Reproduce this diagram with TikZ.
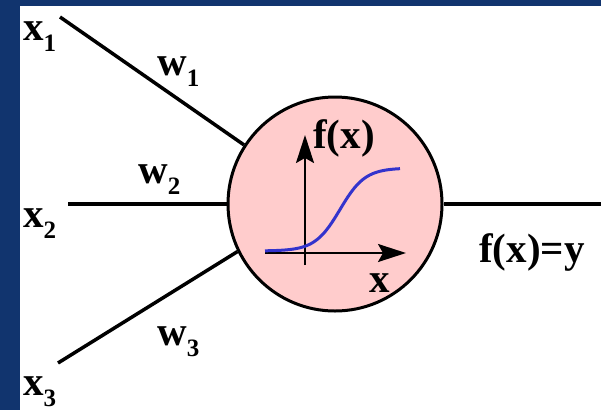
\documentclass[tikz,border=0pt]{standalone}
\usepackage{fontspec}
\setmainfont{Liberation Serif}
\usetikzlibrary{arrows.meta,positioning}
\definecolor{slideblue}{RGB}{17,52,110}
\definecolor{cellpink}{RGB}{255,204,204}
\definecolor{curveblue}{RGB}{51,51,204}
\newcommand{\sub}[1]{\raisebox{-11pt}{\fontsize{25}{28}\selectfont #1}}

\begin{document}
\begin{tikzpicture}[x=1pt,y=-1pt]
\tikzstyle{lab}=[font=\fontsize{41}{48}\selectfont\bfseries, inner sep=0pt, anchor=base west]
\tikzstyle{wire}=[line width=3.5pt]
\tikzstyle{axis}=[line width=2pt, -{Stealth[length=28pt,width=18pt,inset=5pt]}]
\useasboundingbox (0,0) rectangle (601,410);
\fill[slideblue] (0,0) rectangle (601,410);
\fill[white] (20,6) rectangle (601,410);
\node[circle, draw, line width=3pt, fill=cellpink, minimum size=214pt, inner sep=0pt] (neuron) at (335,204) {};
\coordinate (in1) at (60,17);
\coordinate (in2) at (68,204);
\coordinate (in3) at (58,363);
\coordinate (out) at (601,204);
\draw[wire] (in1) -- (neuron.147);
\draw[wire] (in2) -- (neuron.west);
\draw[wire] (in3) -- (neuron.206);
\draw[wire] (neuron.east) -- (out);
\node[lab] (x1) at (23,40) {x\sub{1}};
\node[lab] (x2) at (23,227) {x\sub{2}};
\node[lab] (x3) at (23,395) {x\sub{3}};
\node[lab] (w1) at (157,75) {w\sub{1}};
\node[lab] (w2) at (138,183) {w\sub{2}};
\node[lab] (w3) at (157,345) {w\sub{3}};
\node[lab] (y) at (479,262) {f(x)=y};
\coordinate (yaxis0) at (305,265);
\coordinate (yaxis1) at (305,135);
\coordinate (xaxis0) at (265,253);
\coordinate (xaxis1) at (406,253);
\draw[axis] (yaxis0) -- (yaxis1);
\draw[axis] (xaxis0) -- (xaxis1);
\node[lab] (fx) at (313,148) {f(x)};
\node[lab] (xl) at (369,292) {x};
\draw[curveblue, line width=3pt] plot[domain=265:400, samples=60, smooth] (\x,{209.5-41.5*tanh((\x-340)/25)});
\end{tikzpicture}
\end{document}
